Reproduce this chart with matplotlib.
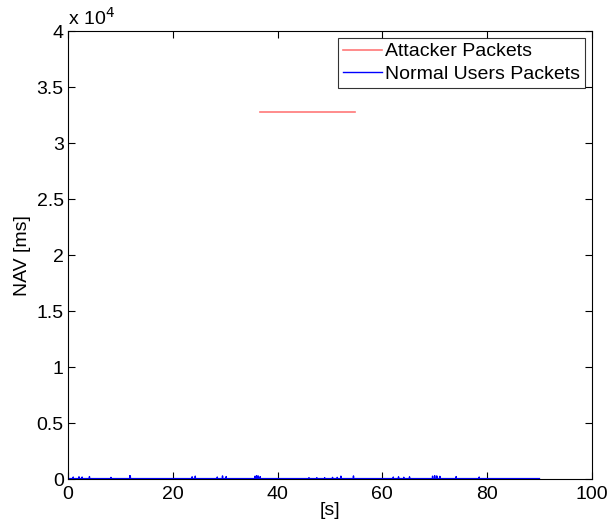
import matplotlib
matplotlib.use("Agg")
import matplotlib.pyplot as plt
from matplotlib.ticker import FuncFormatter, MultipleLocator

# Data
attacker_t = [36.6, 54.8]
attacker_nav = [32767, 32767]

normal_base = 40
normal_end = 90.0
spike_times = [1.0, 2.1, 2.7, 4.1, 8.2, 11.8, 11.9, 23.7, 24.3, 28.5, 29.5, 30.2,
               35.7, 36.0, 36.3, 36.7, 46.0, 47.5, 49.0, 50.5, 51.4, 52.1, 54.5,
               62.1, 63.1, 64.1, 65.2, 69.6, 70.0, 70.4, 71.0, 74.1, 78.5]
spike_heights = [180, 200, 180, 220, 150, 300, 260, 200, 260, 180, 280, 220,
                 250, 300, 280, 220, 120, 120, 120, 150, 150, 260, 280,
                 180, 200, 160, 200, 260, 300, 280, 240, 220, 180]

nt, nv = [0.0], [normal_base]
for t, h in zip(spike_times, spike_heights):
    nt += [t - 0.03, t, t + 0.03]
    nv += [normal_base, h, normal_base]
nt.append(normal_end)
nv.append(normal_base)

plt.rcParams['font.family'] = ['Liberation Sans', 'DejaVu Sans']
fig = plt.figure(figsize=(6.07, 5.27), dpi=100)
ax = fig.add_axes([0.112, 0.091, 0.863, 0.850])

ax.plot(attacker_t, attacker_nav, color='#ff7878', lw=1.2, label='Attacker Packets')
ax.plot(nt, nv, color='#0000ff', lw=1.0, label='Normal Users Packets')

ax.set_xlim(0, 100)
ax.set_ylim(0, 40000)
ax.xaxis.set_major_locator(MultipleLocator(20))
ax.yaxis.set_major_locator(MultipleLocator(5000))
ax.yaxis.set_major_formatter(FuncFormatter(lambda v, p: '%g' % (v / 1e4)))
ax.tick_params(direction='in', top=True, right=True, labelsize=14, length=5, width=0.8)
ax.tick_params(axis='x', pad=5)
ax.tick_params(axis='y', pad=3)
for s in ax.spines.values():
    s.set_linewidth(0.8)
ax.set_xlabel('[s]', fontsize=14, labelpad=-1)
ax.set_ylabel('NAV [ms]', fontsize=14, labelpad=4)
ax.text(0.0, 1.005, r'x 10$^{4}$', transform=ax.transAxes, fontsize=14, ha='left', va='bottom')

leg = ax.legend(loc='upper right', fontsize=14, frameon=True, fancybox=False,
                edgecolor='black', borderaxespad=0.35, handlelength=2.0,
                handletextpad=0.15, borderpad=0.25, labelspacing=0.25)
leg.get_frame().set_linewidth(0.8)

fig.savefig('out.png', dpi=100)
